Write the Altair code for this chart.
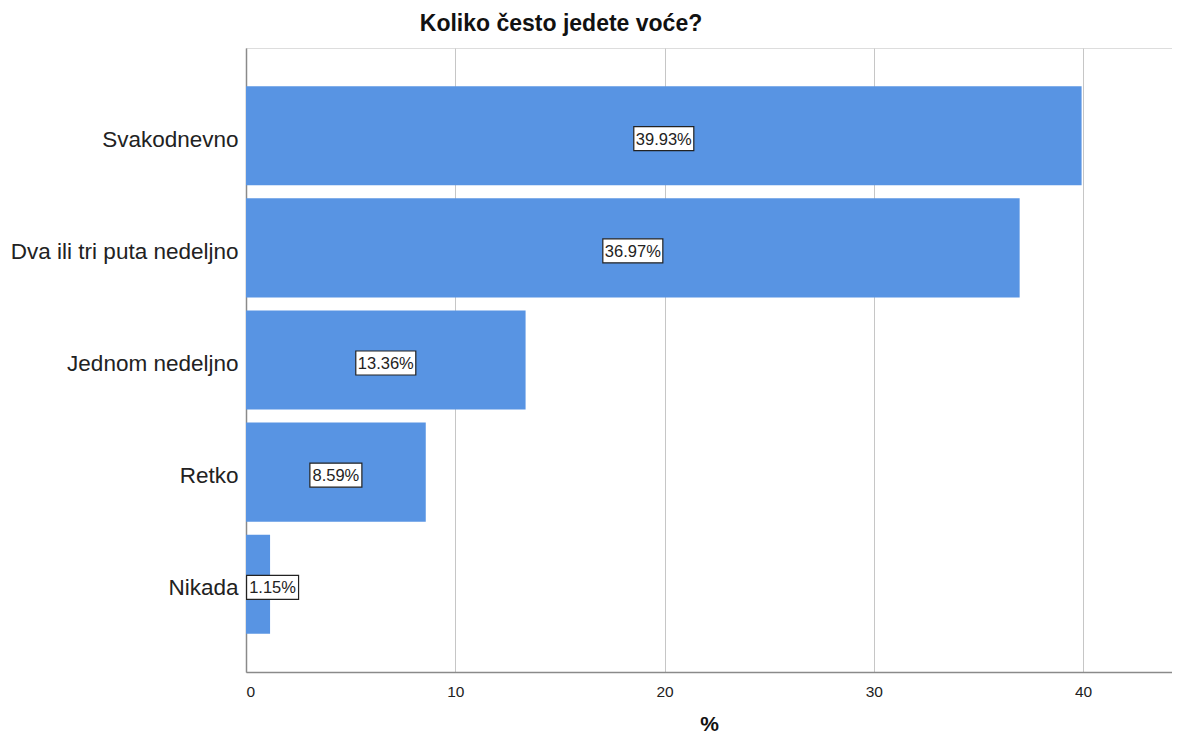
import altair as alt
import pandas as pd

categories = ["Svakodnevno", "Dva ili tri puta nedeljno", "Jednom nedeljno", "Retko", "Nikada"]
values = [39.93, 36.97, 13.36, 8.59, 1.15]
labels = ["39.93%", "36.97%", "13.36%", "8.59%", "1.15%"]
x_ticks = [0, 10, 20, 30, 40]

df = pd.DataFrame({"cat": categories, "value": values, "label": labels})

FONT = "Liberation Sans"
BAR = "#5894E3"

y_enc = alt.Y("cat:N", sort=categories, title=None,
              scale=alt.Scale(paddingInner=0.116, paddingOuter=0.34),
              axis=alt.Axis(labelFontSize=22.5, labelColor="#222222", labelFont=FONT,
                            ticks=False, labelPadding=8, labelLimit=0, labelOffset=4,
                            domainColor="#8a8a8a", domainWidth=1.5, grid=False))
x_scale = alt.Scale(domain=[0, 44.25], nice=False, zero=True)

bars = alt.Chart(df).mark_bar(color=BAR).encode(
    x=alt.X("value:Q", scale=x_scale, title="%",
            axis=alt.Axis(values=x_ticks, ticks=False, labelFontSize=15.5, labelFont=FONT,
                          labelColor="#222222", labelPadding=12, grid=True,
                          gridColor="#c6c6c6", gridWidth=1, domainColor="#8a8a8a",
                          domainWidth=1.5, titleFontSize=21, titleFont=FONT,
                          titleFontWeight="bold", titleColor="#111111", titlePadding=14)),
    y=y_enc,
)

base = alt.Chart(df).transform_calculate(
    mid="max(datum.value / 2, 1.27)",
    n="length(datum.label)",
)

box6 = base.transform_filter("datum.n == 6").mark_rect(
    fill="white", stroke="#222222", strokeWidth=1.2, xOffset=-30, x2Offset=30,
    height=24, yOffset=3
).encode(x=alt.X("mid:Q", scale=x_scale), x2="mid:Q",
         y=alt.Y("cat:N", sort=categories))

box5 = base.transform_filter("datum.n == 5").mark_rect(
    fill="white", stroke="#222222", strokeWidth=1.2, xOffset=-26, x2Offset=26,
    height=24, yOffset=3
).encode(x=alt.X("mid:Q", scale=x_scale), x2="mid:Q",
         y=alt.Y("cat:N", sort=categories))

text = base.mark_text(font=FONT, fontSize=16.5, color="#222222", baseline="middle",
                      align="center", dy=4).encode(
    x=alt.X("mid:Q", scale=x_scale),
    y=alt.Y("cat:N", sort=categories),
    text="label:N",
)

chart = alt.layer(bars, box6, box5, text).properties(
    width=926, height=624,
    title=alt.TitleParams("Koliko često jedete voće?", font=FONT, fontSize=23,
                          fontWeight="bold", color="#111111", anchor="middle",
                          frame="group", dx=-148, offset=12),
    autosize=alt.AutoSizeParams(type="none"),
    padding={"left": 238, "top": 40, "right": 0, "bottom": 66},
).configure_view(stroke=None).configure(background="white")

chart.save("out.html", embed_options={"renderer": "svg", "actions": False})
